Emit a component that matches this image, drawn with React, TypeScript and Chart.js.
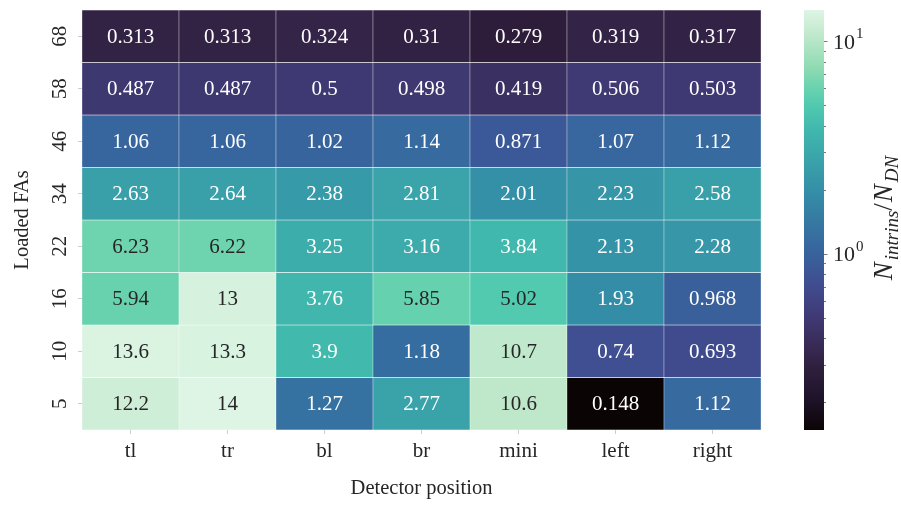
import React, { useEffect, useRef } from 'react';
import { Chart, registerables } from 'chart.js';

Chart.register(...registerables);

// ---- data ----
const colLabels = ['tl', 'tr', 'bl', 'br', 'mini', 'left', 'right'];
const rowLabels = ['68', '58', '46', '34', '22', '16', '10', '5']; // top to bottom
const row68 = [0.313, 0.313, 0.324, 0.31, 0.279, 0.319, 0.317];
const row58 = [0.487, 0.487, 0.5, 0.498, 0.419, 0.506, 0.503];
const row46 = [1.06, 1.06, 1.02, 1.14, 0.871, 1.07, 1.12];
const row34 = [2.63, 2.64, 2.38, 2.81, 2.01, 2.23, 2.58];
const row22 = [6.23, 6.22, 3.25, 3.16, 3.84, 2.13, 2.28];
const row16 = [5.94, 13, 3.76, 5.85, 5.02, 1.93, 0.968];
const row10 = [13.6, 13.3, 3.9, 1.18, 10.7, 0.74, 0.693];
const row5 = [12.2, 14, 1.27, 2.77, 10.6, 0.148, 1.12];
const rows = [row68, row58, row46, row34, row22, row16, row10, row5];
const xTitle = 'Detector position';
const yTitle = 'Loaded FAs';
const cbTicks = [1, 10];

const FONT = "'Liberation Serif', 'DejaVu Serif', serif";
const TEXT = '#262626';

const allVals = rows.flat();
const vmin = Math.min(...allVals);
const vmax = Math.max(...allVals);

// mako-like colormap stops
const MAKO: [number, string][] = [
  [0.0, '#0B0405'],
  [0.07, '#1D1228'],
  [0.143, '#2E1E3B'],
  [0.2, '#382A55'],
  [0.286, '#413D7B'],
  [0.354, '#3F4F92'],
  [0.429, '#37659E'],
  [0.571, '#348FA7'],
  [0.714, '#40B7AD'],
  [0.775, '#52CAB0'],
  [0.822, '#6ED4AF'],
  [0.857, '#8BDAB2'],
  [0.941, '#C0E8CC'],
  [1.0, '#DEF5E5'],
];

function hexToRgb(h: string) {
  return [parseInt(h.slice(1, 3), 16), parseInt(h.slice(3, 5), 16), parseInt(h.slice(5, 7), 16)];
}

function makoRgb(f: number) {
  f = Math.max(0, Math.min(1, f));
  for (let i = 0; i < MAKO.length - 1; i++) {
    const [f0, c0] = MAKO[i];
    const [f1, c1] = MAKO[i + 1];
    if (f >= f0 && f <= f1) {
      const t = (f - f0) / (f1 - f0);
      const a = hexToRgb(c0);
      const b = hexToRgb(c1);
      return a.map((v, k) => Math.round(v + (b[k] - v) * t));
    }
  }
  return hexToRgb(MAKO[MAKO.length - 1][1]);
}

function frac(v: number) {
  return (Math.log10(v) - Math.log10(vmin)) / (Math.log10(vmax) - Math.log10(vmin));
}

function colorFor(v: number) {
  const [r, g, b] = makoRgb(frac(v));
  return `rgb(${r},${g},${b})`;
}

function textColorFor(v: number) {
  const c = makoRgb(frac(v)).map((x) => {
    const s = x / 255;
    return s <= 0.03928 ? s / 12.92 : Math.pow((s + 0.055) / 1.055, 2.4);
  });
  const lum = 0.2126 * c[0] + 0.7152 * c[1] + 0.0722 * c[2];
  return lum > 0.408 ? TEXT : '#ffffff';
}

export default function App() {
  const mainRef = useRef<HTMLCanvasElement>(null);
  const cbRef = useRef<HTMLCanvasElement>(null);

  useEffect(() => {
    const nRows = rowLabels.length;

    const annotPlugin = {
      id: 'annot',
      afterDatasetsDraw(chart: any) {
        const { ctx } = chart;
        const xs = chart.scales.x;
        const ys = chart.scales.y;
        ctx.save();
        ctx.font = `21px ${FONT}`;
        ctx.textAlign = 'center';
        ctx.textBaseline = 'middle';
        rows.forEach((vals, r) => {
          const idx = nRows - 1 - r;
          vals.forEach((v, c) => {
            ctx.fillStyle = textColorFor(v);
            ctx.fillText(String(v), xs.getPixelForValue(c), ys.getPixelForValue(idx) + 1);
          });
        });
        // rotated y tick labels
        ctx.fillStyle = TEXT;
        rowLabels.forEach((lab, r) => {
          const idx = nRows - 1 - r;
          ctx.save();
          ctx.translate(ys.left + 59, ys.getPixelForValue(idx));
          ctx.rotate(-Math.PI / 2);
          ctx.fillText(lab, 0, 1);
          ctx.restore();
        });
        ctx.restore();
      },
    };

    const main = new Chart(mainRef.current!, {
      type: 'bar',
      data: {
        labels: colLabels,
        datasets: rows.map((vals, r) => {
          const idx = nRows - 1 - r;
          return {
            label: rowLabels[r],
            data: vals.map(() => [idx - 0.5, idx + 0.5]),
            backgroundColor: vals.map(colorFor),
            borderColor: 'rgba(255,255,255,0.85)',
            borderWidth: 0.5,
            borderSkipped: false,
            grouped: false,
            barPercentage: 1,
            categoryPercentage: 1,
          } as any;
        }),
      },
      options: {
        responsive: false,
        animation: false,
        devicePixelRatio: 1,
        layout: { padding: { left: 0, right: 29, top: 10, bottom: 0 } },
        plugins: { legend: { display: false }, tooltip: { enabled: false } },
        scales: {
          x: {
            type: 'category',
            offset: true,
            grid: { display: true, offset: false, drawOnChartArea: false, drawTicks: true, tickLength: 4, color: '#cccccc' },
            border: { display: false },
            ticks: { font: { family: FONT, size: 21 }, color: TEXT, padding: 5, maxRotation: 0 },
            title: { display: true, text: xTitle, font: { family: FONT, size: 20.5 }, color: TEXT, padding: { top: 5, bottom: 5 } },
            afterFit: (s: any) => { s.height = 76; },
          },
          y: {
            type: 'linear',
            min: -0.5,
            max: nRows - 0.5,
            afterBuildTicks: (s: any) => { s.ticks = rowLabels.map((_, i) => ({ value: i })); },
            ticks: { display: false },
            grid: { display: true, drawOnChartArea: false, drawTicks: true, tickLength: 4, color: '#cccccc' },
            border: { display: false },
            title: { display: true, text: yTitle, font: { family: FONT, size: 20.5 }, color: TEXT, padding: { top: 10, bottom: 10 } },
            afterFit: (s: any) => { s.width = 82; },
          },
        },
      } as any,
      plugins: [annotPlugin],
    });

    const cbPlugin = {
      id: 'cbdeco',
      afterDraw(chart: any) {
        const { ctx, chartArea } = chart;
        const ys = chart.scales.y;
        ctx.save();
        // minor + major ticks
        ctx.strokeStyle = '#555555';
        ctx.lineWidth = 0.8;
        const minors: number[] = [];
        for (let d = -1; d <= 1; d++) {
          for (let m = 2; m <= 9; m++) {
            const v = m * Math.pow(10, d);
            if (v >= vmin && v <= vmax) minors.push(v);
          }
        }
        minors.forEach((v) => {
          const y = Math.round(ys.getPixelForValue(v)) + 0.5;
          ctx.beginPath();
          ctx.moveTo(chartArea.right, y);
          ctx.lineTo(chartArea.right + 2, y);
          ctx.stroke();
        });
        cbTicks.forEach((v) => {
          const y = Math.round(ys.getPixelForValue(v)) + 0.5;
          ctx.beginPath();
          ctx.moveTo(chartArea.right, y);
          ctx.lineTo(chartArea.right + 3.5, y);
          ctx.stroke();
        });
        // tick labels 10^n
        ctx.fillStyle = TEXT;
        ctx.textBaseline = 'middle';
        ctx.textAlign = 'left';
        cbTicks.forEach((v) => {
          const y = ys.getPixelForValue(v) + 2;
          const x = chartArea.right + 9;
          ctx.font = `22px ${FONT}`;
          ctx.fillText('10', x, y);
          const w = ctx.measureText('10').width;
          ctx.font = `15px ${FONT}`;
          ctx.fillText(String(Math.round(Math.log10(v))), x + w + 1, y - 9);
        });
        // colorbar label
        ctx.save();
        ctx.translate(chartArea.right + 60, (chartArea.top + chartArea.bottom) / 2 - 2);
        ctx.rotate(-Math.PI / 2);
        const parts: [string, number, number][] = [
          ['N', 27, 0],
          ['intrins', 19, 6],
          ['/', 27, 0],
          ['N', 27, 0],
          ['DN', 19, 6],
        ];
        const gap = (t: string) => (t === 'N' ? 2 : t === '/' ? 1 : 0);
        let total = 0;
        parts.forEach(([t, sz]) => {
          ctx.font = `${t === '/' ? '' : 'italic '}${sz}px ${FONT}`;
          total += ctx.measureText(t).width + gap(t);
        });
        let px = -total / 2;
        ctx.textBaseline = 'alphabetic';
        parts.forEach(([t, sz, dy]) => {
          ctx.font = `${t === '/' ? '' : 'italic '}${sz}px ${FONT}`;
          ctx.fillText(t, px, 8 + dy);
          px += ctx.measureText(t).width + gap(t);
        });
        ctx.restore();
        ctx.restore();
      },
    };

    const cb = new Chart(cbRef.current!, {
      type: 'bar',
      data: {
        labels: ['cb'],
        datasets: [
          {
            data: [[vmin, vmax]],
            backgroundColor: (c: any) => {
              const area = c.chart.chartArea;
              if (!area) return '#000';
              const g = c.chart.ctx.createLinearGradient(0, area.bottom, 0, area.top);
              MAKO.forEach(([f, col]) => g.addColorStop(f, col));
              return g;
            },
            borderWidth: 0,
            barPercentage: 1,
            categoryPercentage: 1,
          } as any,
        ],
      },
      options: {
        responsive: false,
        animation: false,
        devicePixelRatio: 1,
        layout: { padding: { left: 14, right: 0, top: 10, bottom: 76 } },
        plugins: { legend: { display: false }, tooltip: { enabled: false } },
        scales: {
          x: { display: false },
          y: {
            type: 'logarithmic',
            position: 'right',
            min: vmin,
            max: vmax,
            ticks: { display: false },
            grid: { display: false },
            border: { display: false },
            afterFit: (s: any) => { s.width = 77; },
          },
        },
      } as any,
      plugins: [cbPlugin],
    });

    return () => {
      main.destroy();
      cb.destroy();
    };
  }, []);

  return (
    <div style={{ position: 'absolute', left: 0, top: 0, width: 901, height: 506, background: '#ffffff' }}>
      <canvas ref={mainRef} width={790} height={506} style={{ position: 'absolute', left: 0, top: 0, width: 790, height: 506 }} />
      <canvas ref={cbRef} width={111} height={506} style={{ position: 'absolute', left: 790, top: 0, width: 111, height: 506 }} />
    </div>
  );
}
